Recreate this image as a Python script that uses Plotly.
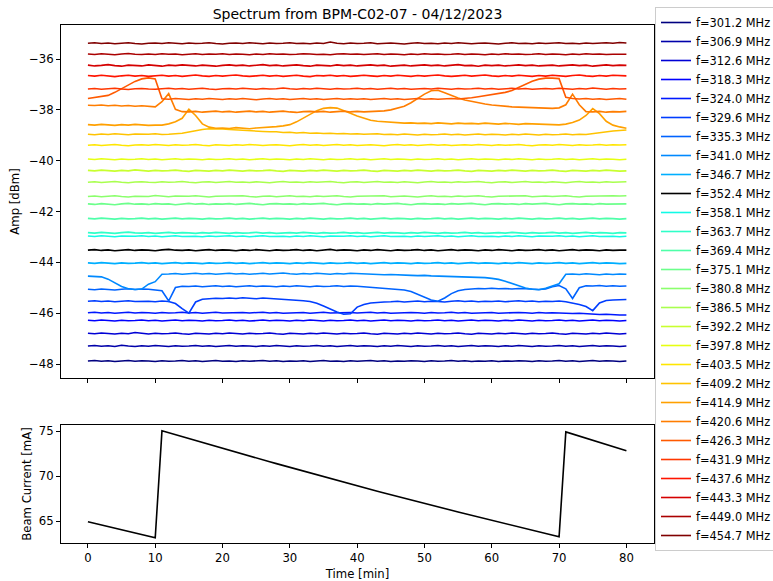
import plotly.graph_objects as go

# ---------------- data ----------------
time_min = list(range(0, 81))

beam_current_mA = [
    64.92, 64.74, 64.56, 64.38, 64.20, 64.02, 63.85, 63.67, 63.50, 63.32,
    63.14, 75.02, 74.80, 74.58, 74.37, 74.15, 73.93, 73.72, 73.50, 73.28,
    73.07, 72.85, 72.64, 72.43, 72.22, 72.01, 71.80, 71.59, 71.38, 71.17,
    70.96, 70.75, 70.55, 70.34, 70.14, 69.93, 69.73, 69.52, 69.32, 69.11,
    68.91, 68.70, 68.51, 68.31, 68.12, 67.92, 67.73, 67.53, 67.34, 67.14,
    66.95, 66.75, 66.57, 66.38, 66.20, 66.01, 65.83, 65.64, 65.46, 65.27,
    65.09, 64.90, 64.72, 64.54, 64.35, 64.17, 63.99, 63.80, 63.62, 63.44,
    63.25, 74.90, 74.67, 74.44, 74.20, 73.97, 73.74, 73.51, 73.27, 73.04,
    72.81]

freq_MHz = ["301.2", "306.9", "312.6", "318.3", "324.0", "329.6", "335.3",
            "341.0", "346.7", "352.4", "358.1", "363.7", "369.4", "375.1",
            "380.8", "386.5", "392.2", "397.8", "403.5", "409.2", "414.9",
            "420.6", "426.3", "431.9", "437.6", "443.3", "449.0", "454.7"]

amp_f301_2 = [
    -47.88, -47.86, -47.89, -47.87, -47.90, -47.88, -47.86, -47.89, -47.87, -47.88,
    -47.90, -47.87, -47.89, -47.88, -47.86, -47.89, -47.87, -47.90, -47.88, -47.86,
    -47.89, -47.88, -47.90, -47.87, -47.89, -47.88, -47.86, -47.89, -47.87, -47.90,
    -47.88, -47.89, -47.87, -47.90, -47.88, -47.86, -47.89, -47.88, -47.90, -47.87,
    -47.89, -47.88, -47.86, -47.89, -47.87, -47.90, -47.88, -47.89, -47.87, -47.88,
    -47.90, -47.87, -47.89, -47.88, -47.86, -47.89, -47.87, -47.90, -47.88, -47.89,
    -47.87, -47.90, -47.88, -47.89, -47.87, -47.88, -47.90, -47.87, -47.89, -47.88,
    -47.86, -47.89, -47.87, -47.90, -47.88, -47.86, -47.89, -47.87, -47.88, -47.90,
    -47.88]
amp_f306_9 = [
    -47.29, -47.27, -47.30, -47.28, -47.31, -47.26, -47.29, -47.31, -47.28, -47.30,
    -47.27, -47.29, -47.31, -47.28, -47.30, -47.29, -47.27, -47.30, -47.28, -47.31,
    -47.29, -47.27, -47.30, -47.28, -47.29, -47.31, -47.28, -47.30, -47.27, -47.29,
    -47.31, -47.28, -47.30, -47.29, -47.27, -47.30, -47.28, -47.31, -47.29, -47.27,
    -47.30, -47.28, -47.29, -47.31, -47.28, -47.30, -47.27, -47.29, -47.31, -47.28,
    -47.30, -47.29, -47.27, -47.30, -47.28, -47.31, -47.29, -47.27, -47.30, -47.28,
    -47.29, -47.31, -47.28, -47.30, -47.27, -47.29, -47.31, -47.28, -47.30, -47.29,
    -47.27, -47.30, -47.28, -47.31, -47.29, -47.27, -47.30, -47.28, -47.29, -47.31,
    -47.29]
amp_f312_6 = [
    -46.79, -46.81, -46.78, -46.80, -46.82, -46.79, -46.81, -46.76, -46.80, -46.82,
    -46.79, -46.81, -46.80, -46.78, -46.81, -46.83, -46.79, -46.80, -46.82, -46.79,
    -46.81, -46.78, -46.80, -46.82, -46.79, -46.81, -46.80, -46.78, -46.81, -46.83,
    -46.79, -46.80, -46.82, -46.79, -46.81, -46.78, -46.80, -46.82, -46.79, -46.81,
    -46.80, -46.78, -46.81, -46.83, -46.79, -46.80, -46.82, -46.79, -46.81, -46.78,
    -46.80, -46.82, -46.79, -46.81, -46.80, -46.78, -46.81, -46.83, -46.79, -46.80,
    -46.82, -46.79, -46.81, -46.78, -46.80, -46.82, -46.79, -46.81, -46.80, -46.78,
    -46.81, -46.83, -46.79, -46.80, -46.82, -46.79, -46.81, -46.78, -46.80, -46.82,
    -46.80]
amp_f318_3 = [
    -46.28, -46.30, -46.27, -46.29, -46.31, -46.28, -46.30, -46.29, -46.27, -46.30,
    -46.28, -46.31, -46.29, -46.27, -46.30, -46.28, -46.29, -46.31, -46.28, -46.30,
    -46.29, -46.27, -46.30, -46.28, -46.31, -46.29, -46.27, -46.30, -46.28, -46.29,
    -46.31, -46.28, -46.30, -46.27, -46.29, -46.31, -46.28, -46.30, -46.29, -46.27,
    -46.30, -46.28, -46.31, -46.29, -46.27, -46.30, -46.28, -46.29, -46.31, -46.28,
    -46.30, -46.29, -46.27, -46.30, -46.28, -46.31, -46.29, -46.27, -46.30, -46.28,
    -46.29, -46.31, -46.28, -46.30, -46.27, -46.29, -46.31, -46.28, -46.30, -46.29,
    -46.27, -46.30, -46.28, -46.31, -46.29, -46.27, -46.30, -46.28, -46.29, -46.31,
    -46.29]
amp_f324_0 = [
    -45.98, -45.96, -45.99, -45.97, -46.00, -45.98, -45.96, -45.99, -45.97, -45.98,
    -46.00, -45.97, -45.99, -45.98, -45.96, -45.99, -45.97, -46.00, -45.98, -45.96,
    -45.99, -45.98, -46.00, -45.97, -45.99, -45.98, -45.96, -45.99, -45.97, -46.00,
    -45.98, -45.99, -45.97, -46.00, -45.98, -45.96, -45.99, -45.98, -46.00, -45.97,
    -45.99, -45.98, -45.96, -45.99, -45.97, -46.00, -45.98, -45.99, -45.97, -45.98,
    -46.00, -45.97, -45.99, -45.98, -45.96, -45.99, -45.97, -46.00, -45.98, -45.99,
    -45.97, -46.00, -45.98, -45.99, -45.97, -45.98, -46.00, -45.97, -45.99, -45.98,
    -46.00, -45.99, -46.01, -46.00, -46.02, -46.03, -46.05, -46.04, -46.06, -46.07,
    -46.07]
amp_f329_6 = [
    -45.53, -45.51, -45.54, -45.52, -45.55, -45.53, -45.51, -45.54, -45.52, -45.53,
    -45.55, -45.52, -45.54,
    -45.62, -45.82, -46.00, -45.56, -45.45,
    -45.43, -45.41, -45.42, -45.40, -45.42, -45.39, -45.41, -45.43, -45.40, -45.42,
    -45.41, -45.43,
    -45.45, -45.48, -45.51, -45.54, -45.61, -45.72, -45.84, -45.95, -46.04, -46.02,
    -45.76, -45.66, -45.60, -45.57, -45.56,
    -45.55, -45.53, -45.56, -45.54, -45.52, -45.55, -45.53, -45.54, -45.56, -45.53,
    -45.51, -45.54, -45.52, -45.55, -45.53, -45.54, -45.52, -45.55, -45.53, -45.51,
    -45.54, -45.52, -45.55, -45.53, -45.54, -45.52, -45.55,
    -45.60, -45.66, -45.74, -45.90, -45.60, -45.50, -45.48, -45.47, -45.46]
amp_f335_3 = [
    -45.06, -45.08, -45.05, -45.07, -45.09, -45.06, -45.04, -45.07, -45.05, -45.06,
    -45.08, -45.12,
    -45.52, -44.99, -44.94,
    -44.95, -44.93, -44.96, -44.94, -44.92, -44.95, -44.93, -44.96, -44.94, -44.92,
    -44.95, -44.93, -44.94, -44.96, -44.93, -44.95, -44.92, -44.94, -44.96, -44.93,
    -44.95, -44.94, -44.92, -44.95, -44.93, -44.94,
    -44.96, -44.97, -45.00, -45.02, -45.04, -45.06, -45.09, -45.15, -45.26, -45.38,
    -45.48, -45.53, -45.40, -45.23, -45.12, -45.07,
    -45.05, -45.03, -45.04, -45.02, -45.04, -45.03, -45.05, -45.03, -45.04, -45.06,
    -45.07, -45.05, -44.96, -44.91,
    -45.04, -45.42, -45.00, -44.92, -44.93, -44.91, -44.94, -44.92, -44.94, -44.93]
amp_f341_0 = [
    -44.54, -44.55, -44.57, -44.66, -44.80, -44.95, -45.04, -45.07, -45.05, -44.86,
    -44.76, -44.47,
    -44.46, -44.44, -44.47, -44.45, -44.43, -44.46, -44.44, -44.47, -44.45, -44.43,
    -44.46, -44.44, -44.47, -44.45, -44.43, -44.46, -44.44, -44.42, -44.45, -44.47,
    -44.44, -44.46, -44.43, -44.45, -44.47, -44.44, -44.46, -44.43, -44.44, -44.46,
    -44.48, -44.47, -44.49, -44.48, -44.50, -44.49, -44.51, -44.52, -44.51, -44.53,
    -44.54, -44.53, -44.55, -44.56, -44.55, -44.57, -44.58, -44.60, -44.63, -44.67,
    -44.74, -44.83, -44.93, -45.01, -45.06, -45.08, -45.02, -44.92, -44.84,
    -44.47, -44.46, -44.48, -44.45, -44.47, -44.49, -44.46, -44.48, -44.46, -44.47]
amp_f346_7 = [
    -44.02, -44.04, -44.01, -44.03, -44.05, -44.02, -44.04, -44.03, -44.01, -44.04,
    -44.02, -44.05, -44.03, -44.01, -44.04, -44.02, -44.03, -44.05, -44.02, -44.04,
    -44.03, -44.01, -44.04, -44.02, -44.05, -44.03, -44.01, -44.04, -44.02, -44.03,
    -44.05, -44.02, -44.04, -44.01, -44.03, -44.05, -44.02, -44.04, -44.03, -44.01,
    -44.04, -44.02, -44.05, -44.03, -44.01, -44.04, -44.02, -44.03, -44.05, -44.02,
    -44.04, -44.03, -44.01, -44.04, -44.02, -44.05, -44.03, -44.01, -44.04, -44.02,
    -44.03, -44.05, -44.02, -44.04, -44.01, -44.03, -44.05, -44.02, -44.04, -44.03,
    -44.01, -44.04, -44.02, -44.05, -44.03, -44.01, -44.04, -44.02, -44.03, -44.05,
    -44.04]
amp_f352_4 = [
    -43.52, -43.50, -43.53, -43.51, -43.54, -43.52, -43.50, -43.53, -43.51, -43.52,
    -43.54, -43.51, -43.49, -43.52, -43.53, -43.51, -43.54, -43.52, -43.50, -43.53,
    -43.51, -43.52, -43.54, -43.51, -43.53, -43.50, -43.52, -43.54, -43.51, -43.53,
    -43.52, -43.50, -43.53, -43.51, -43.54, -43.52, -43.49, -43.53, -43.51, -43.52,
    -43.54, -43.51, -43.53, -43.50, -43.52, -43.54, -43.51, -43.53, -43.52, -43.50,
    -43.53, -43.51, -43.54, -43.52, -43.50, -43.53, -43.51, -43.52, -43.54, -43.51,
    -43.53, -43.50, -43.52, -43.54, -43.51, -43.53, -43.52, -43.50, -43.53, -43.51,
    -43.54, -43.52, -43.50, -43.53, -43.51, -43.52, -43.54, -43.51, -43.53, -43.52,
    -43.52]
amp_f358_1 = [
    -42.96, -42.98, -42.95, -42.97, -42.99, -42.96, -42.98, -42.97, -42.95, -42.98,
    -42.96, -42.99, -42.97, -42.95, -42.98, -42.96, -42.97, -42.99, -42.96, -42.98,
    -42.97, -42.95, -42.98, -42.96, -42.99, -42.97, -42.95, -42.98, -42.96, -42.97,
    -42.99, -42.96, -42.98, -42.95, -42.97, -42.99, -42.96, -42.98, -42.97, -42.95,
    -42.98, -42.96, -42.99, -42.97, -42.95, -42.98, -42.96, -42.97, -42.99, -42.96,
    -42.98, -42.97, -42.95, -42.98, -42.96, -42.99, -42.97, -42.95, -42.98, -42.96,
    -42.97, -42.99, -42.96, -42.98, -42.95, -42.97, -42.99, -42.96, -42.98, -42.97,
    -42.95, -42.98, -42.96, -42.99, -42.97, -42.95, -42.98, -42.96, -42.97, -42.99,
    -42.97]
amp_f363_7 = [
    -42.83, -42.85, -42.82, -42.84, -42.86, -42.83, -42.81, -42.84, -42.85, -42.83,
    -42.86, -42.84, -42.82, -42.85, -42.83, -42.84, -42.86, -42.83, -42.85, -42.82,
    -42.84, -42.86, -42.83, -42.85, -42.84, -42.82, -42.85, -42.83, -42.86, -42.84,
    -42.83, -42.85, -42.82, -42.84, -42.86, -42.83, -42.85, -42.84, -42.82, -42.85,
    -42.83, -42.86, -42.84, -42.82, -42.85, -42.83, -42.84, -42.86, -42.83, -42.85,
    -42.82, -42.84, -42.86, -42.83, -42.85, -42.84, -42.82, -42.85, -42.83, -42.86,
    -42.84, -42.83, -42.85, -42.82, -42.84, -42.86, -42.83, -42.85, -42.84, -42.82,
    -42.85, -42.83, -42.86, -42.84, -42.82, -42.85, -42.83, -42.84, -42.86, -42.83,
    -42.84]
amp_f369_4 = [
    -42.27, -42.29, -42.26, -42.28, -42.30, -42.27, -42.29, -42.28, -42.26, -42.29,
    -42.27, -42.30, -42.28, -42.26, -42.29, -42.27, -42.28, -42.30, -42.27, -42.29,
    -42.28, -42.26, -42.29, -42.27, -42.30, -42.28, -42.26, -42.29, -42.27, -42.28,
    -42.30, -42.27, -42.29, -42.26, -42.28, -42.30, -42.27, -42.29, -42.28, -42.26,
    -42.29, -42.27, -42.30, -42.28, -42.26, -42.29, -42.27, -42.28, -42.30, -42.27,
    -42.29, -42.28, -42.26, -42.29, -42.27, -42.30, -42.28, -42.26, -42.29, -42.27,
    -42.28, -42.30, -42.27, -42.29, -42.26, -42.28, -42.30, -42.27, -42.29, -42.28,
    -42.26, -42.29, -42.27, -42.30, -42.28, -42.26, -42.29, -42.27, -42.28, -42.30,
    -42.28]
amp_f375_1 = [
    -41.70, -41.72, -41.69, -41.71, -41.73, -41.70, -41.68, -41.71, -41.70, -41.72,
    -41.69, -41.71, -41.70, -41.73, -41.70, -41.68, -41.71, -41.69, -41.72, -41.70,
    -41.71, -41.69, -41.72, -41.70, -41.68, -41.71, -41.73, -41.70, -41.69, -41.71,
    -41.70, -41.72, -41.69, -41.71, -41.70, -41.68, -41.71, -41.73, -41.70, -41.69,
    -41.71, -41.70, -41.72, -41.69, -41.71, -41.70, -41.68, -41.71, -41.73, -41.70,
    -41.69, -41.71, -41.70, -41.72, -41.69, -41.71, -41.70, -41.68, -41.71, -41.73,
    -41.70, -41.69, -41.71, -41.70, -41.72, -41.69, -41.71, -41.70, -41.68, -41.71,
    -41.73, -41.70, -41.69, -41.71, -41.70, -41.72, -41.69, -41.71, -41.70, -41.71,
    -41.70]
amp_f380_8 = [
    -41.41, -41.39, -41.42, -41.40, -41.38, -41.41, -41.43, -41.40, -41.39, -41.41,
    -41.37, -41.40, -41.42, -41.39, -41.41, -41.40, -41.38, -41.41, -41.43, -41.40,
    -41.39, -41.41, -41.40, -41.38, -41.41, -41.43, -41.40, -41.39, -41.42, -41.40,
    -41.38, -41.41, -41.40, -41.42, -41.39, -41.41, -41.40, -41.38, -41.41, -41.43,
    -41.40, -41.39, -41.41, -41.40, -41.38, -41.42, -41.40, -41.39, -41.41, -41.43,
    -41.40, -41.38, -41.41, -41.40, -41.42, -41.39, -41.41, -41.40, -41.38, -41.41,
    -41.43, -41.40, -41.39, -41.41, -41.40, -41.38, -41.42, -41.40, -41.39, -41.41,
    -41.40, -41.38, -41.41, -41.43, -41.40, -41.39, -41.41, -41.40, -41.38, -41.39,
    -41.38]
amp_f386_5 = [
    -40.85, -40.83, -40.86, -40.84, -40.82, -40.85, -40.87, -40.84, -40.83, -40.85,
    -40.86, -40.83, -40.85, -40.84, -40.82, -40.85, -40.87, -40.84, -40.83, -40.86,
    -40.84, -40.82, -40.85, -40.84, -40.86, -40.83, -40.85, -40.87, -40.84, -40.82,
    -40.85, -40.84, -40.86, -40.83, -40.85, -40.84, -40.82, -40.85, -40.87, -40.84,
    -40.83, -40.86, -40.84, -40.82, -40.85, -40.84, -40.86, -40.83, -40.85, -40.87,
    -40.84, -40.82, -40.85, -40.84, -40.86, -40.83, -40.85, -40.84, -40.82, -40.85,
    -40.87, -40.84, -40.83, -40.86, -40.84, -40.82, -40.85, -40.84, -40.86, -40.83,
    -40.85, -40.87, -40.84, -40.82, -40.85, -40.84, -40.86, -40.83, -40.85, -40.84,
    -40.83]
amp_f392_2 = [
    -40.38, -40.40, -40.37, -40.39, -40.41, -40.38, -40.40, -40.36, -40.39, -40.41,
    -40.38, -40.40, -40.39, -40.37, -40.40, -40.42, -40.38, -40.39, -40.41, -40.38,
    -40.40, -40.37, -40.39, -40.41, -40.38, -40.40, -40.39, -40.37, -40.40, -40.42,
    -40.38, -40.39, -40.41, -40.38, -40.40, -40.37, -40.39, -40.41, -40.38, -40.40,
    -40.39, -40.37, -40.40, -40.42, -40.38, -40.39, -40.41, -40.38, -40.40, -40.37,
    -40.39, -40.41, -40.38, -40.40, -40.39, -40.37, -40.40, -40.42, -40.38, -40.39,
    -40.41, -40.38, -40.40, -40.37, -40.39, -40.41, -40.38, -40.40, -40.39, -40.37,
    -40.40, -40.42, -40.38, -40.39, -40.41, -40.38, -40.40, -40.37, -40.39, -40.41,
    -40.40]
amp_f397_8 = [
    -39.93, -39.95, -39.92, -39.94, -39.96, -39.93, -39.95, -39.94, -39.92, -39.95,
    -39.93, -39.96, -39.94, -39.92, -39.95, -39.93, -39.94, -39.96, -39.93, -39.95,
    -39.94, -39.92, -39.95, -39.93, -39.96, -39.94, -39.92, -39.95, -39.93, -39.94,
    -39.96, -39.93, -39.95, -39.92, -39.94, -39.96, -39.93, -39.95, -39.94, -39.92,
    -39.95, -39.93, -39.96, -39.94, -39.92, -39.95, -39.93, -39.94, -39.96, -39.93,
    -39.95, -39.94, -39.92, -39.95, -39.93, -39.96, -39.94, -39.92, -39.95, -39.93,
    -39.94, -39.96, -39.93, -39.95, -39.92, -39.94, -39.96, -39.93, -39.95, -39.94,
    -39.92, -39.95, -39.93, -39.96, -39.94, -39.92, -39.95, -39.93, -39.94, -39.96,
    -39.94]
amp_f403_5 = [
    -39.39, -39.37, -39.40, -39.38, -39.36, -39.39, -39.41, -39.38, -39.37, -39.39,
    -39.36, -39.38, -39.40, -39.37, -39.39, -39.38, -39.36, -39.39, -39.41, -39.37,
    -39.38, -39.40, -39.37, -39.39, -39.36, -39.38, -39.40, -39.38, -39.37, -39.39,
    -39.41, -39.38, -39.36, -39.39, -39.37, -39.40, -39.38, -39.36, -39.39, -39.37,
    -39.40, -39.38, -39.37, -39.39, -39.41, -39.38, -39.36, -39.39, -39.37, -39.40,
    -39.38, -39.36, -39.39, -39.37, -39.40, -39.38, -39.37, -39.39, -39.36, -39.38,
    -39.40, -39.37, -39.39, -39.38, -39.36, -39.39, -39.41, -39.38, -39.37, -39.39,
    -39.36, -39.38, -39.40, -39.37, -39.39, -39.38, -39.36, -39.39, -39.37, -39.38,
    -39.37]
amp_f409_2 = [
    -38.96, -38.98, -38.95, -38.97, -38.94, -38.96, -38.98, -38.95, -38.97, -38.96,
    -38.94, -38.97, -38.96,
    -38.95, -38.92, -38.87, -38.81, -38.77, -38.74, -38.74, -38.75, -38.77, -38.79,
    -38.80, -38.82, -38.83, -38.85, -38.86,
    -38.86, -38.89, -38.88, -38.91, -38.89, -38.92, -38.91, -38.93, -38.92, -38.94,
    -38.93, -38.95, -38.94, -38.96, -38.95, -38.94, -38.97,
    -38.96, -38.98, -38.95, -38.97, -38.99, -38.96, -38.98, -38.97, -38.95, -38.98,
    -38.96, -38.99, -38.97, -38.95, -38.98, -38.96, -38.97, -38.99, -38.96, -38.98,
    -38.95, -38.97, -38.99, -38.96, -38.98, -38.97, -38.95, -38.98, -38.96, -38.97,
    -38.93, -38.89, -38.86, -38.83, -38.81, -38.79]
amp_f414_9 = [
    -38.58, -38.60, -38.57, -38.59, -38.61, -38.58, -38.60, -38.57, -38.59, -38.61,
    -38.60,
    -38.60, -38.55, -38.47, -38.33, -37.97, -38.22, -38.55, -38.68, -38.72,
    -38.71, -38.73, -38.70, -38.72, -38.74, -38.71, -38.70,
    -38.68, -38.66, -38.63, -38.58, -38.47, -38.33, -38.18, -38.03, -37.94, -37.91,
    -37.93, -38.02, -38.13, -38.24, -38.34, -38.41, -38.45, -38.47, -38.49,
    -38.50, -38.52, -38.51, -38.53, -38.52, -38.54, -38.51, -38.53, -38.55, -38.52,
    -38.54, -38.53, -38.55, -38.52, -38.54, -38.56, -38.53, -38.55, -38.57, -38.54,
    -38.56, -38.55, -38.57, -38.58,
    -38.59, -38.56, -38.50, -38.40, -38.22, -37.95, -38.15, -38.45, -38.60, -38.67,
    -38.72]
amp_f420_6 = [
    -37.82, -37.83, -37.81, -37.84, -37.82, -37.85, -37.83, -37.86, -37.84, -37.86,
    -37.88,
    -37.68, -37.36, -37.98, -38.07,
    -38.08, -38.06, -38.09, -38.07, -38.05, -38.08, -38.06, -38.09, -38.07, -38.05,
    -38.08, -38.06, -38.09, -38.07, -38.05, -38.08, -38.10, -38.07, -38.06, -38.08,
    -38.06, -38.09, -38.07, -38.05, -38.08, -38.06, -38.08, -38.07, -38.06,
    -38.04, -38.00, -37.94, -37.86, -37.72, -37.55, -37.38, -37.25, -37.23,
    -37.33, -37.44, -37.53, -37.61, -37.67, -37.72, -37.77, -37.81, -37.84, -37.86,
    -37.88, -37.89, -37.90, -37.91, -37.92, -37.93, -37.94, -37.92,
    -37.80, -37.38, -37.80, -38.07,
    -38.08, -38.06, -38.09, -38.07, -38.08, -38.06]
amp_f426_3 = [
    -37.55, -37.52, -37.48, -37.43, -37.31, -37.17, -37.02, -36.88, -36.78, -36.74,
    -36.78,
    -37.56, -37.58, -37.55, -37.57, -37.59, -37.56, -37.58, -37.55, -37.57, -37.59,
    -37.56, -37.58, -37.55, -37.57, -37.60, -37.57, -37.55, -37.58, -37.56, -37.59,
    -37.57, -37.55, -37.58, -37.56, -37.59, -37.57, -37.55, -37.58, -37.56, -37.58,
    -37.56, -37.59, -37.57, -37.55, -37.58, -37.56, -37.59, -37.57, -37.55, -37.58,
    -37.56, -37.58, -37.57, -37.55, -37.57,
    -37.55, -37.52, -37.48, -37.44, -37.40, -37.35, -37.31, -37.24, -37.12, -36.99,
    -36.87, -36.79, -36.75, -36.75, -36.77,
    -37.50, -37.55, -37.57, -37.55, -37.58, -37.56, -37.59, -37.57, -37.55, -37.58]
amp_f431_9 = [
    -37.18, -37.16, -37.19, -37.17, -37.15, -37.18, -37.20, -37.17, -37.16, -37.18,
    -37.19, -37.17, -37.15, -37.18, -37.16, -37.19, -37.17, -37.15, -37.18, -37.20,
    -37.17, -37.16, -37.18, -37.15, -37.17, -37.19, -37.16, -37.18, -37.17, -37.14,
    -37.17, -37.19, -37.16, -37.18, -37.15, -37.17, -37.19, -37.16, -37.18, -37.17,
    -37.15, -37.18, -37.16, -37.19, -37.17, -37.15, -37.18, -37.16, -37.19, -37.17,
    -37.16, -37.18, -37.15, -37.17, -37.19, -37.16, -37.18, -37.17, -37.15, -37.18,
    -37.16, -37.19, -37.17, -37.15, -37.18, -37.16, -37.19, -37.17, -37.16, -37.18,
    -37.15, -37.17, -37.19, -37.16, -37.18, -37.14, -37.17, -37.19, -37.16, -37.18,
    -37.17]
amp_f437_6 = [
    -36.65, -36.67, -36.64, -36.66, -36.69, -36.66, -36.64, -36.67, -36.65, -36.68,
    -36.66, -36.64, -36.67, -36.65, -36.68, -36.66, -36.63, -36.66, -36.68, -36.65,
    -36.67, -36.65, -36.63, -36.66, -36.68, -36.66, -36.64, -36.67, -36.65, -36.68,
    -36.66, -36.64, -36.67, -36.69, -36.65, -36.66, -36.64, -36.67, -36.65, -36.68,
    -36.66, -36.64, -36.66, -36.68, -36.65, -36.67, -36.64, -36.66, -36.68, -36.65,
    -36.67, -36.65, -36.63, -36.66, -36.68, -36.66, -36.64, -36.67, -36.65, -36.63,
    -36.66, -36.68, -36.65, -36.67, -36.64, -36.66, -36.68, -36.65, -36.67, -36.64,
    -36.66, -36.68, -36.65, -36.63, -36.66, -36.68, -36.65, -36.67, -36.64, -36.66,
    -36.66]
amp_f443_3 = [
    -36.24, -36.27, -36.25, -36.22, -36.26, -36.28, -36.24, -36.25, -36.27, -36.23,
    -36.25, -36.28, -36.24, -36.26, -36.23, -36.25, -36.27, -36.24, -36.26, -36.28,
    -36.25, -36.23, -36.26, -36.24, -36.27, -36.25, -36.22, -36.26, -36.24, -36.27,
    -36.25, -36.23, -36.26, -36.28, -36.24, -36.25, -36.27, -36.23, -36.26, -36.24,
    -36.27, -36.25, -36.23, -36.26, -36.24, -36.28, -36.25, -36.24, -36.27, -36.25,
    -36.23, -36.26, -36.24, -36.27, -36.25, -36.22, -36.26, -36.25, -36.28, -36.24,
    -36.26, -36.24, -36.27, -36.25, -36.23, -36.26, -36.24, -36.27, -36.25, -36.24,
    -36.27, -36.25, -36.23, -36.26, -36.24, -36.28, -36.25, -36.23, -36.26, -36.24,
    -36.25]
amp_f449_0 = [
    -35.80, -35.82, -35.79, -35.81, -35.83, -35.80, -35.78, -35.81, -35.82, -35.80,
    -35.82, -35.79, -35.81, -35.80, -35.83, -35.81, -35.79, -35.82, -35.80, -35.81,
    -35.79, -35.82, -35.80, -35.81, -35.83, -35.80, -35.82, -35.79, -35.81, -35.80,
    -35.82, -35.81, -35.79, -35.80, -35.82, -35.81, -35.83, -35.80, -35.79, -35.81,
    -35.80, -35.82, -35.81, -35.79, -35.82, -35.80, -35.81, -35.83, -35.80, -35.82,
    -35.79, -35.81, -35.80, -35.82, -35.81, -35.79, -35.82, -35.80, -35.81, -35.83,
    -35.80, -35.82, -35.79, -35.81, -35.80, -35.82, -35.81, -35.79, -35.82, -35.80,
    -35.81, -35.83, -35.80, -35.82, -35.79, -35.81, -35.80, -35.82, -35.81, -35.80,
    -35.81]
amp_f454_7 = [
    -35.38, -35.36, -35.39, -35.37, -35.40, -35.38, -35.36, -35.39, -35.41, -35.38,
    -35.37, -35.39, -35.36, -35.38, -35.40, -35.37, -35.39, -35.38, -35.36, -35.39,
    -35.41, -35.38, -35.37, -35.39, -35.36, -35.38, -35.40, -35.37, -35.39, -35.38,
    -35.36, -35.39, -35.38, -35.40, -35.37, -35.39, -35.33, -35.38, -35.40, -35.37,
    -35.39, -35.38, -35.36, -35.40, -35.38, -35.37, -35.39, -35.41, -35.38, -35.36,
    -35.39, -35.38, -35.40, -35.37, -35.39, -35.36, -35.38, -35.40, -35.38, -35.37,
    -35.39, -35.41, -35.38, -35.36, -35.39, -35.38, -35.40, -35.37, -35.39, -35.38,
    -35.36, -35.39, -35.38, -35.40, -35.37, -35.39, -35.38, -35.36, -35.38, -35.35,
    -35.37]

spectrum_series = [amp_f301_2, amp_f306_9, amp_f312_6, amp_f318_3, amp_f324_0,
                   amp_f329_6, amp_f335_3, amp_f341_0, amp_f346_7, amp_f352_4,
                   amp_f358_1, amp_f363_7, amp_f369_4, amp_f375_1, amp_f380_8,
                   amp_f386_5, amp_f392_2, amp_f397_8, amp_f403_5, amp_f409_2,
                   amp_f414_9, amp_f420_6, amp_f426_3, amp_f431_9, amp_f437_6,
                   amp_f443_3, amp_f449_0, amp_f454_7]
black_index = 9

x_ticks = [0, 10, 20, 30, 40, 50, 60, 70, 80]
amp_ticks = [-48, -46, -44, -42, -40, -38, -36]
current_ticks = [65, 70, 75]


# ---------------- style helpers ----------------
def _interp(pts, v):
    for (x0, y0), (x1, y1) in zip(pts[:-1], pts[1:]):
        if v <= x1:
            if x1 == x0:
                return y1
            return y0 + (y1 - y0) * (v - x0) / (x1 - x0)
    return pts[-1][1]


def jet(v):
    r = _interp([(0, 0), (0.35, 0), (0.66, 1), (0.89, 1), (1, 0.5)], v)
    g = _interp([(0, 0), (0.125, 0), (0.375, 1), (0.64, 1), (0.91, 0), (1, 0)], v)
    b = _interp([(0, 0.5), (0.11, 1), (0.34, 1), (0.65, 0), (1, 0)], v)
    return "rgb(%d,%d,%d)" % (round(r * 255), round(g * 255), round(b * 255))


W, H = 773, 581
FONT = "DejaVu Sans"
fs = 11.7
legend_fs = 11.4

fig = go.Figure()
n = len(spectrum_series)
for i, (lab, ys) in enumerate(zip(freq_MHz, spectrum_series)):
    color = "black" if i == black_index else jet(i / (n - 1))
    fig.add_trace(go.Scatter(x=time_min, y=ys, mode="lines",
                             name="f=%s MHz" % lab,
                             line=dict(color=color, width=1.6),
                             xaxis="x", yaxis="y"))

fig.add_trace(go.Scatter(x=time_min, y=beam_current_mA, mode="lines",
                         line=dict(color="black", width=1.6),
                         showlegend=False, xaxis="x2", yaxis="y2"))

xdom = [61 / W, 654 / W]
axis_common = dict(showline=True, mirror=True, linecolor="black", linewidth=1,
                   ticks="outside", ticklen=4, tickwidth=1, tickcolor="black",
                   showgrid=False, zeroline=False, automargin=False,
                   tickfont=dict(family=FONT, size=fs, color="black"))

fig.update_layout(
    width=W, height=H,
    margin=dict(l=0, r=0, t=0, b=0, autoexpand=False),
    paper_bgcolor="white", plot_bgcolor="white",
    font=dict(family=FONT, size=fs, color="black"),
    title=dict(text="Spectrum from BPM-C02-07 - 04/12/2023",
               x=357.5 / W, xanchor="center", y=1 - 14 / H, yanchor="middle",
               font=dict(family=FONT, size=14, color="black")),
    xaxis=dict(domain=xdom, range=[-4, 84.1], anchor="y", tickvals=x_ticks,
               showticklabels=False, **axis_common),
    yaxis=dict(domain=[1 - 378 / H, 1 - 25 / H], range=[-48.55, -34.66],
               anchor="x", tickvals=amp_ticks,
               title=dict(text="Amp [dBm]", standoff=6,
                          font=dict(family=FONT, size=fs, color="black")),
               **axis_common),
    xaxis2=dict(domain=xdom, range=[-4, 84.1], anchor="y2", tickvals=x_ticks,
                title=dict(text="Time [min]", standoff=6,
                           font=dict(family=FONT, size=fs, color="black")),
                **axis_common),
    yaxis2=dict(domain=[1 - 543 / H, 1 - 425 / H], range=[62.56, 75.67],
                anchor="x2", tickvals=current_ticks,
                title=dict(text="Beam Current [mA]", standoff=4,
                           font=dict(family=FONT, size=fs, color="black")),
                **axis_common),
    legend=dict(x=655 / W, xanchor="left", y=1 - 279 / H, yanchor="middle",
                xref="container", yref="container", maxheight=575,
                bgcolor="rgba(255,255,255,0.8)", bordercolor="#cccccc",
                borderwidth=1, tracegroupgap=0,
                font=dict(family=FONT, size=legend_fs, color="black")),
    showlegend=True,
)

fig.write_html("out.html")
